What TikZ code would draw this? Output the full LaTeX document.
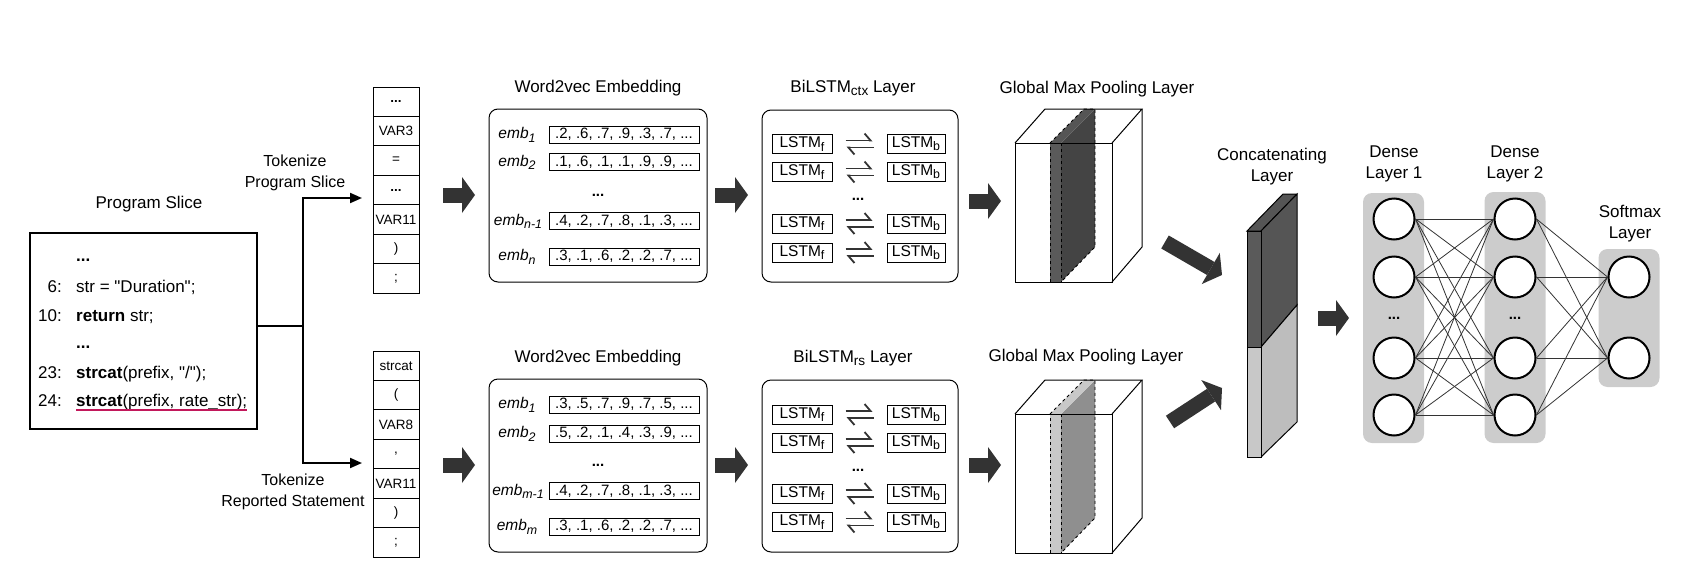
\documentclass[tikz,border=0pt]{standalone}
\usepackage{fontspec}
\setmainfont{Liberation Sans}
\usetikzlibrary{arrows.meta}

\definecolor{arrowgray}{HTML}{333333}
\definecolor{panelgray}{HTML}{CCCCCC}
\definecolor{ulred}{HTML}{C2185B}
\definecolor{slabfront}{HTML}{5A5A5A}
\definecolor{slabside}{HTML}{444444}
\definecolor{slablight}{HTML}{C8C8C8}
\definecolor{slabmid}{HTML}{8F8F8F}
\definecolor{bardark}{HTML}{555555}
\definecolor{barside}{HTML}{BDBDBD}

\newcommand{\etc}{\textbf{...}}
\newcommand{\lowsub}[1]{\raisebox{-0.4ex}{\scalebox{0.8}{#1}}}

\tikzset{
	title/.style={font=\fontsize{17}{21}\selectfont, align=center, inner sep=0pt},
	toklabel/.style={font=\fontsize{16}{21}\selectfont, align=center, inner sep=0pt},
	slicebox/.style={draw, line width=2pt, minimum width=227pt, minimum height=196pt},
	code/.style={font=\fontsize{17}{20}\selectfont, anchor=base west, inner sep=0pt},
	lineno/.style={font=\fontsize{17}{20}\selectfont, anchor=base east, inner sep=0pt},
	uline/.style={draw=ulred, line width=1.6pt},
	conn/.style={line width=2pt},
	tokarrow/.style={line width=2pt, -{Triangle[length=12pt,width=10pt]}},
	tok/.style={draw, line width=0.9pt, minimum width=46pt, minimum height=29.43pt, inner sep=0pt, font=\fontsize{13.5}{16}\selectfont},
	embbox/.style={draw, rounded corners=9pt, line width=1pt, minimum width=218pt, minimum height=173pt},
	emb/.style={font=\fontsize{15.5}{18}\selectfont\itshape, inner sep=0pt},
	vec/.style={draw, line width=1pt, minimum width=150pt, minimum height=17pt, inner sep=0pt, font=\fontsize{15}{17}\selectfont},
	dots/.style={font=\fontsize{15}{17}\selectfont, inner sep=0pt},
	lstmbox/.style={draw, rounded corners=9pt, line width=1pt, minimum width=196pt, minimum height=172pt},
	lstm/.style={draw, line width=1pt, minimum height=19pt, inner sep=0pt, font=\fontsize{15.5}{18}\selectfont},
	harp/.style={draw=arrowgray, line width=1.8pt, shorten <=13pt, shorten >=14pt, -{Straight Barb[harpoon, length=6pt, width=14pt]}},
	fat/.style={draw=arrowgray, line width=15pt, -{Triangle[length=13pt, width=36pt, line width=0pt]}},
	panel/.style={fill=panelgray, rounded corners=9pt, minimum width=61pt, inner sep=0pt},
	neuron/.style={circle, draw, line width=2pt, fill=white, minimum size=41pt, inner sep=0pt},
	syn/.style={draw=arrowgray, line width=0.8pt},
	dashedge/.style={draw=black, dashed, line width=0.9pt},
	edge3d/.style={draw=black, line width=1pt}
}

\begin{document}
\begin{tikzpicture}[x=1pt,y=-1pt]
	\useasboundingbox (0,0) rectangle (1696,570);

	% program slice
	\node[title] (slicetitle) at (149,204) {Program Slice};
	\node[slicebox] (slice) at (143.5,331) {};
	\node[code] (c1) at (76,261) {\etc};
	\node[lineno] (n2) at (62,292) {6:};
	\node[code] (c2) at (76,292) {str = \textquotedbl Duration\textquotedbl;};
	\node[lineno] (n3) at (62,321) {10:};
	\node[code] (c3) at (76,321) {\textbf{return} str;};
	\node[code] (c4) at (76,348) {\etc};
	\node[lineno] (n5) at (62,378) {23:};
	\node[code] (c5) at (76,378) {\textbf{strcat}(prefix, \textquotedbl/\textquotedbl);};
	\node[lineno] (n6) at (62,406) {24:};
	\node[code] (c6) at (76,406) {\textbf{strcat}(prefix, rate\_str);};
	\draw[uline] ([yshift=-4pt]c6.base west) -- ([yshift=-4pt]c6.base east);

	% tokenize
	\coordinate (fork) at (303,326);
	\coordinate (inA) at (362,198);
	\coordinate (inB) at (362,463);
	\draw[conn] ([yshift=5pt]slice.east) -- (fork);
	\draw[tokarrow] (fork) |- (inA);
	\draw[tokarrow] (fork) |- (inB);
	\node[toklabel] (tka) at (295,172.5) {Tokenize\\Program Slice};
	\node[toklabel] (tkb) at (293,491.5) {Tokenize\\Reported Statement};

	\foreach \tk [count=\i] in {\etc,VAR3,=,\etc,VAR11,{)},;}
		\node[tok] (pa\i) at (396,{87+29.43*(\i-0.5)}) {\tk};
	\foreach \tk [count=\i] in {strcat,{(},VAR8,{,},VAR11,{)},;}
		\node[tok] (pb\i) at (396,{351+29.43*(\i-0.5)}) {\tk};

	% block arrows
	\coordinate (a1a) at (443,195);  \coordinate (a1b) at (475,195);
	\coordinate (a2a) at (443,465);  \coordinate (a2b) at (475,465);
	\coordinate (a3a) at (715,195);  \coordinate (a3b) at (748,195);
	\coordinate (a4a) at (715,465);  \coordinate (a4b) at (748,465);
	\coordinate (a5a) at (969,201);  \coordinate (a5b) at (1001,201);
	\coordinate (a6a) at (969,465);  \coordinate (a6b) at (1001,465);
	\coordinate (a7a) at (1165,242); \coordinate (a7b) at (1222,275);
	\coordinate (a8a) at (1170,422); \coordinate (a8b) at (1222,388);
	\coordinate (a9a) at (1318,318); \coordinate (a9b) at (1349,318);
	\draw[fat] (a1a) -- (a1b);
	\draw[fat] (a2a) -- (a2b);
	\draw[fat] (a3a) -- (a3b);
	\draw[fat] (a4a) -- (a4b);
	\draw[fat] (a5a) -- (a5b);
	\draw[fat] (a6a) -- (a6b);
	\draw[fat] (a7a) -- (a7b);
	\draw[fat] (a8a) -- (a8b);
	\draw[fat] (a9a) -- (a9b);

	% word2vec, ctx
	\node[title] (wvta) at (598,88) {Word2vec Embedding};
	\node[embbox] (wva) at (598,195.5) {};
	\node[emb] (ea1) at (517,135) {emb\lowsub{1}};
	\node[emb] (ea2) at (517,162.5) {emb\lowsub{2}};
	\node[dots] (ea3) at (598,195) {\etc};
	\node[emb] (ea4) at (518,221.5) {emb\lowsub{n-1}};
	\node[emb] (ea5) at (517,257) {emb\lowsub{n}};
	\node[vec] (va1) at (624,134.5) {.2, .6, .7, .9, .3, .7, ...};
	\node[vec] (va2) at (624,162) {.1, .6, .1, .1, .9, .9, ...};
	\node[vec] (va4) at (624,221) {.4, .2, .7, .8, .1, .3, ...};
	\node[vec] (va5) at (624,256.5) {.3, .1, .6, .2, .2, .7, ...};

	% word2vec, rs
	\node[title] (wvtb) at (598,358) {Word2vec Embedding};
	\node[embbox] (wvb) at (598,465.5) {};
	\node[emb] (eb1) at (517,405) {emb\lowsub{1}};
	\node[emb] (eb2) at (517,434) {emb\lowsub{2}};
	\node[dots] (eb3) at (598,465) {\etc};
	\node[emb] (eb4) at (518,491.5) {emb\lowsub{m-1}};
	\node[emb] (eb5) at (517,527) {emb\lowsub{m}};
	\node[vec] (vb1) at (624,404.5) {.3, .5, .7, .9, .7, .5, ...};
	\node[vec] (vb2) at (624,433.5) {.5, .2, .1, .4, .3, .9, ...};
	\node[vec] (vb4) at (624,491) {.4, .2, .7, .8, .1, .3, ...};
	\node[vec] (vb5) at (624,526.5) {.3, .1, .6, .2, .2, .7, ...};

	% bilstm, ctx
	\node[title] (bta) at (853,88) {BiLSTM\lowsub{ctx} Layer};
	\node[lstmbox] (bla) at (860,196) {};
	\node[lstm, minimum width=60pt] (fa1) at (802,144) {LSTM\lowsub{f}};
	\node[lstm, minimum width=58pt] (ba1) at (916,144) {LSTM\lowsub{b}};
	\node[lstm, minimum width=60pt] (fa2) at (802,172) {LSTM\lowsub{f}};
	\node[lstm, minimum width=58pt] (ba2) at (916,172) {LSTM\lowsub{b}};
	\node[dots] (fa3) at (858,199) {\etc};
	\node[lstm, minimum width=60pt] (fa4) at (802,223.5) {LSTM\lowsub{f}};
	\node[lstm, minimum width=58pt] (ba4) at (916,223.5) {LSTM\lowsub{b}};
	\node[lstm, minimum width=60pt] (fa5) at (802,252.5) {LSTM\lowsub{f}};
	\node[lstm, minimum width=58pt] (ba5) at (916,252.5) {LSTM\lowsub{b}};

	% bilstm, rs
	\node[title] (btb) at (853,358) {BiLSTM\lowsub{rs} Layer};
	\node[lstmbox] (blb) at (860,466) {};
	\node[lstm, minimum width=60pt] (fb1) at (802,414.5) {LSTM\lowsub{f}};
	\node[lstm, minimum width=58pt] (bb1) at (916,414.5) {LSTM\lowsub{b}};
	\node[lstm, minimum width=60pt] (fb2) at (802,442.5) {LSTM\lowsub{f}};
	\node[lstm, minimum width=58pt] (bb2) at (916,442.5) {LSTM\lowsub{b}};
	\node[dots] (fb3) at (858,470) {\etc};
	\node[lstm, minimum width=60pt] (fb4) at (802,493.5) {LSTM\lowsub{f}};
	\node[lstm, minimum width=58pt] (bb4) at (916,493.5) {LSTM\lowsub{b}};
	\node[lstm, minimum width=60pt] (fb5) at (802,522) {LSTM\lowsub{f}};
	\node[lstm, minimum width=58pt] (bb5) at (916,522) {LSTM\lowsub{b}};

	\foreach \i in {1,2,4,5} {
		\draw[harp] ([yshift=3.5pt]fa\i.east) -- ([yshift=3.5pt]ba\i.west);
		\draw[harp] ([yshift=-3.5pt]ba\i.west) -- ([yshift=-3.5pt]fa\i.east);
		\draw[harp] ([yshift=3.5pt]fb\i.east) -- ([yshift=3.5pt]bb\i.west);
		\draw[harp] ([yshift=-3.5pt]bb\i.west) -- ([yshift=-3.5pt]fb\i.east);
	}

	% pooling, ctx
	\node[title] (gpa) at (1097,89) {Global Max Pooling Layer};
	\fill[white] (1015,143) rectangle (1112,282);
	\fill[slabside] (1061,143) -- (1095,109) -- (1095,247) -- (1061,282) -- cycle;
	\fill[bardark] (1050,143) -- (1084,109) -- (1095,109) -- (1061,143) -- cycle;
	\fill[slabfront] (1050,143) rectangle (1061,282);
	\draw[dashedge] (1050,143) -- (1084,109) -- (1095,109) -- (1095,247) -- (1061,282);
	\draw[dashedge] (1050,282) -- (1050,143) -- (1061,143) -- (1061,282);
	\draw[edge3d] (1015,143) rectangle (1112,282);
	\draw[edge3d] (1015,143) -- (1045,109) -- (1142,109) -- (1112,143);
	\draw[edge3d] (1142,109) -- (1142,247) -- (1112,282);

	% pooling, rs
	\node[title] (gpb) at (1086,357) {Global Max Pooling Layer};
	\fill[white] (1015,414) rectangle (1112,553);
	\fill[slabmid] (1061,414) -- (1095,380) -- (1095,518) -- (1061,553) -- cycle;
	\fill[slablight] (1050,414) -- (1084,380) -- (1095,380) -- (1061,414) -- cycle;
	\fill[slablight] (1050,414) rectangle (1061,553);
	\draw[dashedge] (1050,414) -- (1084,380) -- (1095,380) -- (1095,518) -- (1061,553);
	\draw[dashedge] (1050,553) -- (1050,414) -- (1061,414) -- (1061,553);
	\draw[edge3d] (1015,414) rectangle (1112,553);
	\draw[edge3d] (1015,414) -- (1045,380) -- (1142,380) -- (1112,414);
	\draw[edge3d] (1142,380) -- (1142,518) -- (1112,553);

	% concatenating
	\node[title] (cat) at (1272,166.5) {Concatenating\\Layer};
	\filldraw[fill=bardark, edge3d] (1247,231) -- (1283,194) -- (1297,194) -- (1261,231) -- cycle;
	\filldraw[fill=bardark, edge3d] (1261,231) -- (1297,194) -- (1297,305) -- (1261,347) -- cycle;
	\filldraw[fill=barside, edge3d] (1261,347) -- (1297,305) -- (1297,422) -- (1261,457) -- cycle;
	\filldraw[fill=slabfront, edge3d] (1247,231) rectangle (1261,347);
	\filldraw[fill=slablight, edge3d] (1247,347) rectangle (1261,457);

	% dense layers
	\node[title] (dt1) at (1394,163.5) {Dense\\Layer 1};
	\node[title] (dt2) at (1515,163.5) {Dense\\Layer 2};
	\node[title] (st) at (1630,223.5) {Softmax\\Layer};
	\node[panel, minimum height=250pt] (d1) at (1393.5,318) {};
	\node[panel, minimum height=251pt] (d2) at (1515,317.5) {};
	\node[panel, minimum height=138pt] (sm) at (1629,318) {};

	\node[neuron] (h11) at (1394,219) {};
	\node[neuron] (h12) at (1394,277) {};
	\node[dots] (h1d) at (1394,318) {\etc};
	\node[neuron] (h13) at (1394,358) {};
	\node[neuron] (h14) at (1394,415) {};
	\node[neuron] (h21) at (1515,219) {};
	\node[neuron] (h22) at (1515,277) {};
	\node[dots] (h2d) at (1515,318) {\etc};
	\node[neuron] (h23) at (1515,358) {};
	\node[neuron] (h24) at (1515,415) {};
	\node[neuron] (s1) at (1629,277) {};
	\node[neuron] (s2) at (1629,358) {};

	\foreach \i in {1,...,4}
		\foreach \j in {1,...,4}
			\draw[syn] (h1\i.east) -- (h2\j.west);
	\foreach \i in {1,...,4}
		\foreach \j in {1,2}
			\draw[syn] (h2\i.east) -- (s\j.west);
\end{tikzpicture}
\end{document}
